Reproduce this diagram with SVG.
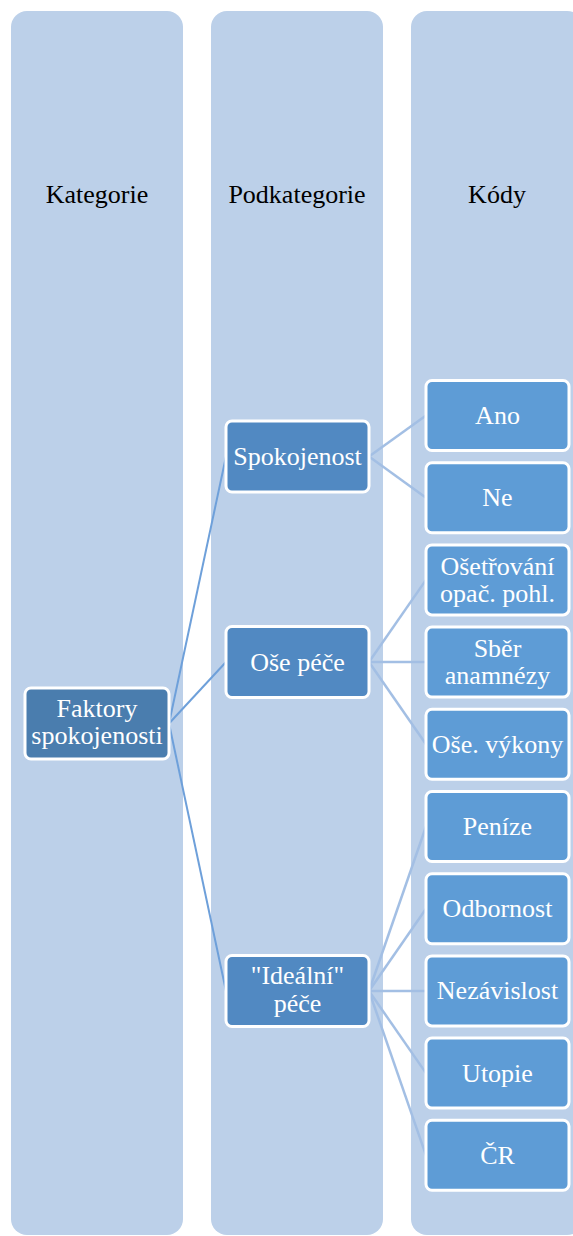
<svg xmlns="http://www.w3.org/2000/svg" width="573" height="1236" viewBox="0 0 573 1236">
  <style>
    .lane { fill: #BCD0E9; }
    text { font-family: 'Liberation Serif', Tinos, 'Times New Roman', Times, 'DejaVu Serif', serif; font-size: 26px; text-anchor: middle; }
    .head { fill: #000000; }
    .box { stroke: #FFFFFF; stroke-width: 3; }
    .lvl1 { fill: #4A7DAE; }
    .lvl2 { fill: #5189C2; }
    .lvl3 { fill: #5E9CD6; }
    .lbl { fill: #FFFFFF; }
    .link1 { stroke: #6EA0DA; stroke-width: 2; fill: none; }
    .link2 { stroke: #A3BFE4; stroke-width: 2.5; fill: none; }
  </style>

  <!-- column lanes -->
  <g id="lanes">
    <rect class="lane" x="11" y="11" width="172" height="1224" rx="16"/>
    <rect class="lane" x="211" y="11" width="172" height="1224" rx="16"/>
    <rect class="lane" x="411" y="11" width="172" height="1224" rx="16"/>
    <text class="head" x="97" y="203">Kategorie</text>
    <text class="head" x="297" y="203">Podkategorie</text>
    <text class="head" x="497" y="203">Kódy</text>
  </g>

  <!-- connectors -->
  <g id="connectors">
    <line class="link1" x1="169" y1="723.5" x2="226" y2="456.5"/>
    <line class="link1" x1="169" y1="723.5" x2="226" y2="662"/>
    <line class="link1" x1="169" y1="723.5" x2="226" y2="991"/>

    <line class="link2" x1="369" y1="456.5" x2="426" y2="415.5"/>
    <line class="link2" x1="369" y1="456.5" x2="426" y2="497.7"/>

    <line class="link2" x1="369" y1="662" x2="426" y2="579.9"/>
    <line class="link2" x1="369" y1="662" x2="426" y2="662.1"/>
    <line class="link2" x1="369" y1="662" x2="426" y2="744.3"/>

    <line class="link2" x1="369" y1="991" x2="426" y2="826.5"/>
    <line class="link2" x1="369" y1="991" x2="426" y2="908.7"/>
    <line class="link2" x1="369" y1="991" x2="426" y2="990.9"/>
    <line class="link2" x1="369" y1="991" x2="426" y2="1073.1"/>
    <line class="link2" x1="369" y1="991" x2="426" y2="1155.3"/>
  </g>

  <!-- category -->
  <g id="faktory-spokojenosti">
    <rect class="box lvl1" x="25" y="688" width="144" height="71" rx="6"/>
    <text class="lbl" x="97" y="717">Faktory</text>
    <text class="lbl" x="97" y="743.5">spokojenosti</text>
  </g>

  <!-- subcategories -->
  <g id="spokojenost">
    <rect class="box lvl2" x="226" y="421" width="143" height="71" rx="6"/>
    <text class="lbl" x="297.5" y="465">Spokojenost</text>
  </g>
  <g id="ose-pece">
    <rect class="box lvl2" x="226" y="626.5" width="143" height="71" rx="6"/>
    <text class="lbl" x="297.5" y="670.5">Oše péče</text>
  </g>
  <g id="idealni-pece">
    <rect class="box lvl2" x="226" y="955.5" width="143" height="71" rx="6"/>
    <text class="lbl" x="297.5" y="984">"Ideální"</text>
    <text class="lbl" x="297.5" y="1011.5">péče</text>
  </g>

  <!-- codes -->
  <g id="ano">
    <rect class="box lvl3" x="426" y="380.5" width="143" height="70" rx="6"/>
    <text class="lbl" x="497.5" y="424">Ano</text>
  </g>
  <g id="ne">
    <rect class="box lvl3" x="426" y="462.7" width="143" height="70" rx="6"/>
    <text class="lbl" x="497.5" y="506">Ne</text>
  </g>
  <g id="osetrovani">
    <rect class="box lvl3" x="426" y="544.9" width="143" height="70" rx="6"/>
    <text class="lbl" x="497.5" y="574.5">Ošetřování</text>
    <text class="lbl" x="497.5" y="601.7">opač. pohl.</text>
  </g>
  <g id="sber-anamnezy">
    <rect class="box lvl3" x="426" y="627.1" width="143" height="70" rx="6"/>
    <text class="lbl" x="497.5" y="656.7">Sběr</text>
    <text class="lbl" x="497.5" y="684">anamnézy</text>
  </g>
  <g id="ose-vykony">
    <rect class="box lvl3" x="426" y="709.3" width="143" height="70" rx="6"/>
    <text class="lbl" x="497.5" y="752.8">Oše. výkony</text>
  </g>
  <g id="penize">
    <rect class="box lvl3" x="426" y="791.5" width="143" height="70" rx="6"/>
    <text class="lbl" x="497.5" y="835">Peníze</text>
  </g>
  <g id="odbornost">
    <rect class="box lvl3" x="426" y="873.7" width="143" height="70" rx="6"/>
    <text class="lbl" x="497.5" y="917.2">Odbornost</text>
  </g>
  <g id="nezavislost">
    <rect class="box lvl3" x="426" y="955.9" width="143" height="70" rx="6"/>
    <text class="lbl" x="497.5" y="999.4">Nezávislost</text>
  </g>
  <g id="utopie">
    <rect class="box lvl3" x="426" y="1038.1" width="143" height="70" rx="6"/>
    <text class="lbl" x="497.5" y="1081.6">Utopie</text>
  </g>
  <g id="cr">
    <rect class="box lvl3" x="426" y="1120.3" width="143" height="70" rx="6"/>
    <text class="lbl" x="497.5" y="1163.8">ČR</text>
  </g>
</svg>
